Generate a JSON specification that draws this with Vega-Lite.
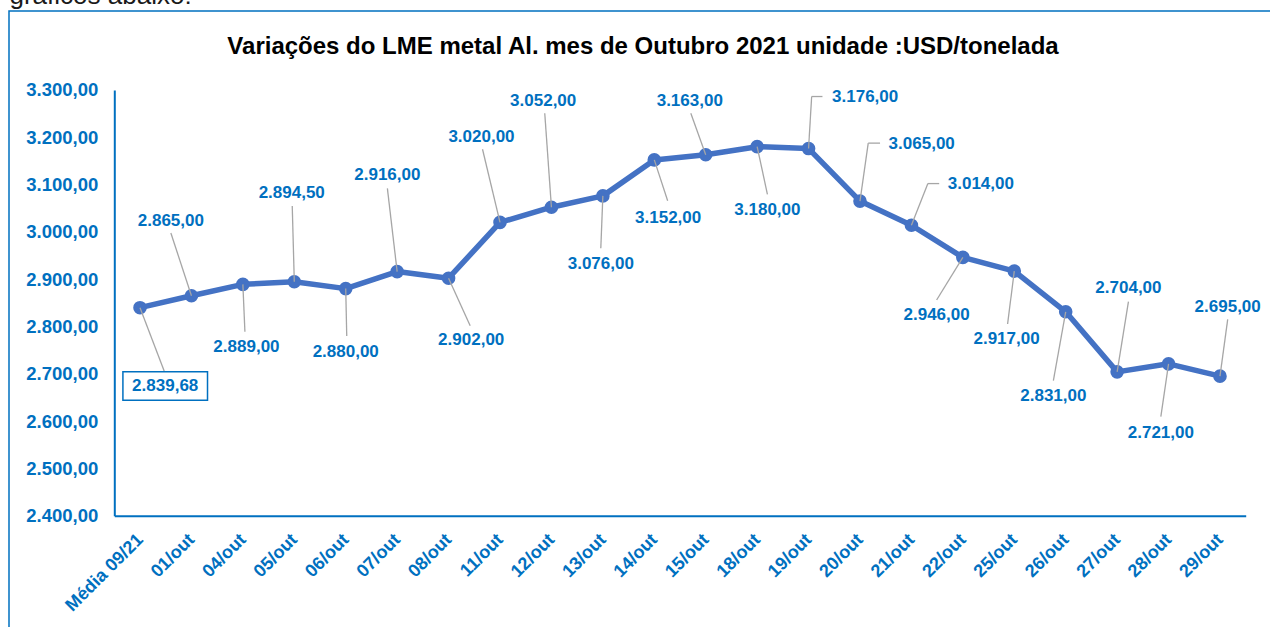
{
  "$schema": "https://vega.github.io/schema/vega-lite/v6.json",
  "autosize": {"type": "none"},
  "width": 1261,
  "height": 616,
  "padding": {"left": 9, "top": 11, "right": 0, "bottom": 0},
  "background": "white",
  "view": {"stroke": "#0070C0", "strokeWidth": 1.5, "strokeDash": [1261, 1877, 616, 20]},
  "config": {
    "locale": {"number": {"decimal": ",", "thousands": ".", "grouping": [3], "currency": ["", ""]}},
    "font": "Liberation Sans"
  },
  "data": {"values": [
    {"d":"Média 09/21","i":0,"v":2839.68,"lx":0.49,"lv":2674.1,"ax":0.47,"av":2705.9},
    {"d":"01/out","i":1,"v":2865,"lx":0.6,"lv":3022.9,"ax":0.6,"av":2997.5},
    {"d":"04/out","i":2,"v":2889,"lx":2.07,"lv":2757.2,"ax":2.04,"av":2788.9},
    {"d":"05/out","i":3,"v":2894.5,"lx":2.95,"lv":3081.5,"ax":2.96,"av":3054.6},
    {"d":"06/out","i":4,"v":2880,"lx":4.0,"lv":2746.6,"ax":4.02,"av":2779.8},
    {"d":"07/out","i":5,"v":2916,"lx":4.81,"lv":3120.1,"ax":4.81,"av":3092.0},
    {"d":"08/out","i":6,"v":2902,"lx":6.44,"lv":2771.4,"ax":6.42,"av":2801.6},
    {"d":"11/out","i":7,"v":3020,"lx":6.64,"lv":3201.1,"ax":6.66,"av":3174.5},
    {"d":"12/out","i":8,"v":3052,"lx":7.84,"lv":3277.2,"ax":7.87,"av":3250.6},
    {"d":"13/out","i":9,"v":3076,"lx":8.96,"lv":2932.0,"ax":8.96,"av":2965.2},
    {"d":"14/out","i":10,"v":3152,"lx":10.27,"lv":3029.9,"ax":10.26,"av":3065.8},
    {"d":"15/out","i":11,"v":3163,"lx":10.69,"lv":3277.2,"ax":10.71,"av":3250.6},
    {"d":"18/out","i":12,"v":3180,"lx":12.2,"lv":3046.2,"ax":12.2,"av":3079.3},
    {"d":"19/out","i":13,"v":3176,"lx":14.1,"lv":3284.4,"ax":13.06,"av":3286,"bx":13.27},
    {"d":"20/out","i":14,"v":3065,"lx":15.2,"lv":3185.7,"ax":14.16,"av":3187.5,"bx":14.39},
    {"d":"21/out","i":15,"v":3014,"lx":16.35,"lv":3100.5,"ax":15.32,"av":3102,"bx":15.54},
    {"d":"22/out","i":16,"v":2946,"lx":15.49,"lv":2824.2,"ax":15.49,"av":2855.9},
    {"d":"25/out","i":17,"v":2917,"lx":16.85,"lv":2772.9,"ax":16.87,"av":2805.2},
    {"d":"26/out","i":18,"v":2831,"lx":17.76,"lv":2653.0,"ax":17.76,"av":2685.4},
    {"d":"27/out","i":19,"v":2704,"lx":19.22,"lv":2880.7,"ax":19.22,"av":2852.3},
    {"d":"28/out","i":20,"v":2721,"lx":19.85,"lv":2575.4,"ax":19.85,"av":2609.3},
    {"d":"29/out","i":21,"v":2695,"lx":21.15,"lv":2841.8,"ax":21.15,"av":2815.1}
  ]},
  "encoding": {
    "x": {"field": "i", "type": "quantitative",
      "scale": {"domain": [-0.5, 21.5], "range": [105.3, 1236.7], "nice": false, "zero": false},
      "axis": {"orient": "bottom", "offset": -111.3, "values": [0,1,2,3,4,5,6,7,8,9,10,11,12,13,14,15,16,17,18,19,20,21],
        "labelExpr": "['Média 09/21','01/out','04/out','05/out','06/out','07/out','08/out','11/out','12/out','13/out','14/out','15/out','18/out','19/out','20/out','21/out','22/out','25/out','26/out','27/out','28/out','29/out'][datum.value]",
        "domain": true, "domainColor": "#0070C0", "domainWidth": 2, "domainOpacity": 1, "ticks": false, "tickSize": 0, "grid": false,
        "labelColor": "#0070C0", "labelFont": "Liberation Sans", "labelFontSize": 18, "labelFontWeight": "bold",
        "labelAngle": -45, "labelAlign": "right", "labelBaseline": "middle", "labelPadding": 21,
        "labelOverlap": false, "labelFlush": false, "labelBound": false,
        "title": "gráficos abaixo:", "titleAngle": 0, "titleAlign": "left", "titleBaseline": "alphabetic",
        "titleX": 0, "titleY": -512, "titleFont": "Liberation Sans", "titleFontSize": 26, "titleFontWeight": "normal", "titleColor": "#1a1a1a"}},
    "y": {"field": "v", "type": "quantitative",
      "scale": {"domain": [2400, 3300], "range": [504.7, 78.9], "nice": false, "zero": false},
      "axis": {"orient": "left", "offset": -105.3, "values": [2400,2500,2600,2700,2800,2900,3000,3100,3200,3300],
        "format": ",.2f", "domain": true, "domainColor": "#0070C0", "domainWidth": 2, "domainOpacity": 1, "ticks": false, "tickSize": 0, "grid": false,
        "labelColor": "#0070C0", "labelFont": "Liberation Sans", "labelFontSize": 18.5, "labelFontWeight": "bold",
        "labelPadding": 16.5, "labelBaseline": "middle", "labelOverlap": false, "labelFlush": false,
        "title": "Variações do LME metal Al. mes de Outubro 2021 unidade :USD/tonelada",
        "titleAngle": 0, "titleAlign": "center", "titleBaseline": "alphabetic", "titleX": 528.2, "titleY": 42.3,
        "titleFont": "Liberation Sans", "titleFontSize": 24, "titleFontWeight": "bold", "titleColor": "#000000"}}
  },
  "layer": [
    {
      "mark": {"type": "line", "color": "#4472C4", "strokeWidth": 5.5, "strokeCap": "round", "strokeJoin": "round", "clip": false}
    },
    {
      "mark": {"type": "point", "filled": true, "color": "#4472C4", "size": 185, "opacity": 1, "clip": false}
    },
    {
      "mark": {"type": "rule", "color": "#A6A6A6", "strokeWidth": 1.3, "clip": false},
      "encoding": {
        "x2": {"field": "ax"},
        "y2": {"field": "av"}
      }
    },
    {
      "transform": [{"filter": "isValid(datum.bx)"}],
      "mark": {"type": "rule", "color": "#A6A6A6", "strokeWidth": 1.3, "clip": false},
      "encoding": {
        "x": {"field": "ax", "type": "quantitative", "scale": {"domain": [-0.5, 21.5], "range": [105.3, 1236.7], "nice": false, "zero": false}},
        "y": {"field": "av", "type": "quantitative", "scale": {"domain": [2400, 3300], "range": [504.7, 78.9], "nice": false, "zero": false}},
        "x2": {"field": "bx"}
      }
    },
    {
      "transform": [{"filter": "datum.i == 0"}],
      "mark": {"type": "point", "shape": "M-1,-0.3345H1V0.3345H-1Z", "size": 7157, "filled": false, "stroke": "#0070C0", "strokeWidth": 1.5, "opacity": 1, "clip": false},
      "encoding": {
        "x": {"field": "lx", "type": "quantitative", "scale": {"domain": [-0.5, 21.5], "range": [105.3, 1236.7], "nice": false, "zero": false}},
        "y": {"field": "lv", "type": "quantitative", "scale": {"domain": [2400, 3300], "range": [504.7, 78.9], "nice": false, "zero": false}}
      }
    },
    {
      "mark": {"type": "text", "font": "Liberation Sans", "fontSize": 17, "fontWeight": "bold", "color": "#0070C0", "align": "center", "baseline": "middle", "clip": false},
      "encoding": {
        "x": {"field": "lx", "type": "quantitative", "scale": {"domain": [-0.5, 21.5], "range": [105.3, 1236.7], "nice": false, "zero": false}},
        "y": {"field": "lv", "type": "quantitative", "scale": {"domain": [2400, 3300], "range": [504.7, 78.9], "nice": false, "zero": false}},
        "text": {"field": "v", "type": "quantitative", "format": ",.2f"}
      }
    }
  ]
}
